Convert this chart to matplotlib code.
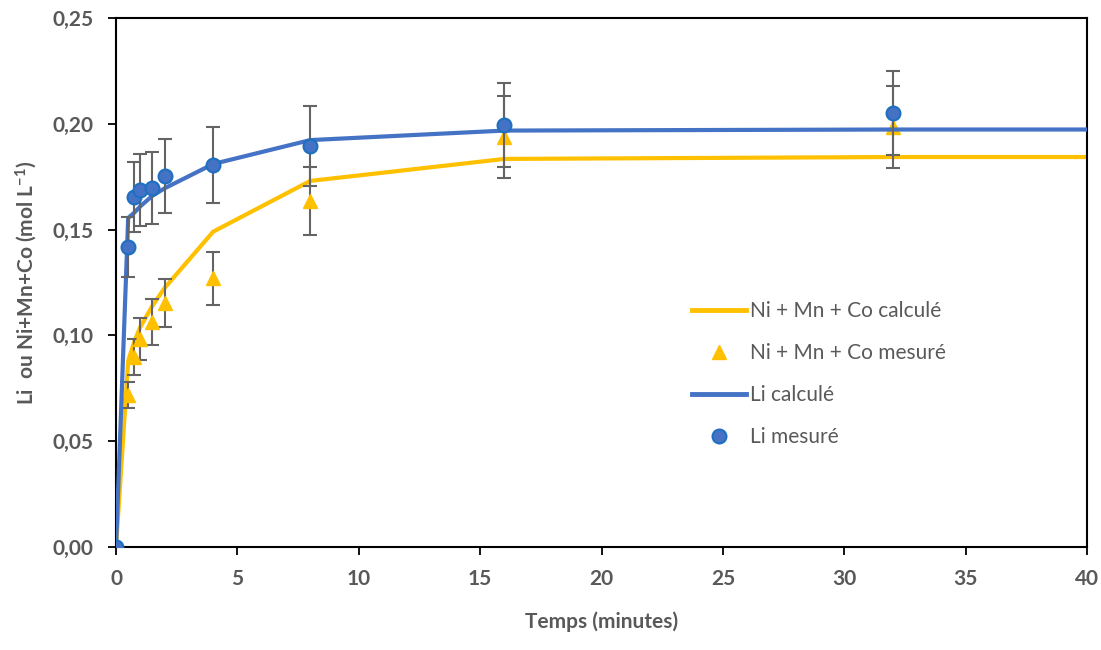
import matplotlib.pyplot as plt
from matplotlib.lines import Line2D
from matplotlib.ticker import FuncFormatter

plt.rcParams['font.family'] = ['Lato', 'DejaVu Sans']
plt.rcParams['mathtext.fontset'] = 'custom'
plt.rcParams['mathtext.bf'] = 'Lato:bold'
plt.rcParams['mathtext.rm'] = 'Lato:bold'
plt.rcParams['mathtext.default'] = 'bf'

grey = '#595959'

# temps de prélèvement (minutes)
t_mes = [0, 0.5, 0.75, 1, 1.5, 2, 4, 8, 16, 32]
li_mes = [0.0, 0.1418, 0.1654, 0.1687, 0.1697, 0.1753, 0.1805, 0.1895, 0.1994, 0.2051]
li_err = [0.0, 0.014, 0.0165, 0.017, 0.017, 0.0175, 0.018, 0.019, 0.020, 0.020]
nmc_mes = [0.0, 0.0718, 0.0898, 0.0983, 0.1063, 0.1153, 0.1270, 0.1635, 0.1938, 0.1985]
nmc_err = [0.0, 0.006, 0.0085, 0.010, 0.011, 0.0115, 0.0125, 0.016, 0.0195, 0.0195]

t_calc = [0, 0.5, 0.75, 1, 1.5, 2, 4, 8, 16, 32, 40]
li_calc = [0.0, 0.1555, 0.158, 0.161, 0.166, 0.1695, 0.181, 0.1923, 0.1968, 0.1973, 0.1973]
nmc_calc = [0.0, 0.088, 0.097, 0.104, 0.114, 0.1224, 0.149, 0.173, 0.1834, 0.1843, 0.1843]

labels = ['Ni + Mn + Co calculé', 'Ni + Mn + Co mesuré', 'Li calculé', 'Li mesuré']

fig = plt.figure(figsize=(11.01, 6.5), dpi=100)
ax = fig.add_axes([0.1054, 0.1585, 0.8819, 0.8138])

ax.plot(t_calc, nmc_calc, color='#FFC000', lw=3, zorder=2)
ax.errorbar(t_mes, nmc_mes, yerr=nmc_err, fmt='^', color='#FFC000', ms=10,
            ecolor='#646464', elinewidth=1.5, capsize=5, capthick=1.5, zorder=3)
ax.plot(t_calc, li_calc, color='#4472C4', lw=3, zorder=4)
ax.errorbar(t_mes, li_mes, yerr=li_err, fmt='o', color='#4472C4', mec='#1F6FC0',
            mew=1.5, ms=10, ecolor='#646464', elinewidth=1.5, capsize=5,
            capthick=1.5, zorder=5)

ax.set_xlim(0, 40)
ax.set_ylim(0, 0.25)
ax.set_xticks(range(0, 41, 5))
ax.set_yticks([0, 0.05, 0.10, 0.15, 0.20, 0.25])
ax.yaxis.set_major_formatter(FuncFormatter(lambda v, p: f'{v:.2f}'.replace('.', ',')))
for s in ax.spines.values():
    s.set_color('black')
    s.set_linewidth(1.5)
ax.tick_params(axis='both', direction='out', length=6, width=1.3, color='black',
               labelsize=15, labelcolor=grey, pad=10)
for lab in ax.get_xticklabels() + ax.get_yticklabels():
    lab.set_fontweight('bold')

ax.set_xlabel('Temps (minutes)', fontsize=15, fontweight='bold', color=grey, labelpad=16)
ax.set_ylabel('Li  ou Ni+Mn+Co (mol L$^{-1}$)', fontsize=15, fontweight='bold',
              color=grey, labelpad=10)

handles = [
    Line2D([], [], color='#FFC000', lw=3.5),
    Line2D([], [], ls='none', marker='^', color='#FFC000', ms=10),
    Line2D([], [], color='#4472C4', lw=3.5),
    Line2D([], [], ls='none', marker='o', color='#4472C4', mec='#1F6FC0', mew=1.5, ms=10),
]
leg = ax.legend(handles, labels, loc='upper left', bbox_to_anchor=(0.574, 0.5),
                frameon=False, fontsize=15, handlelength=2.6, labelspacing=1.05,
                handletextpad=0.2)
for txt in leg.get_texts():
    txt.set_color(grey)

fig.savefig('out.png', dpi=100)
